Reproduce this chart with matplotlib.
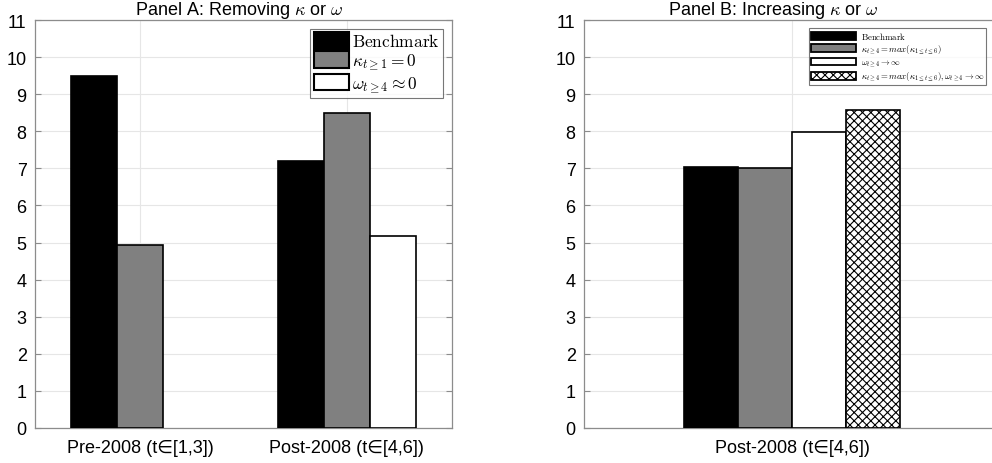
import numpy as np
import matplotlib
matplotlib.use('Agg')
import matplotlib.pyplot as plt
from matplotlib.patches import Patch

plt.rcParams['font.family'] = ['Liberation Sans', 'DejaVu Sans']
plt.rcParams['mathtext.fontset'] = 'cm'
plt.rcParams['hatch.linewidth'] = 0.8

## Data
cats_a = ['Pre-2008 (t\u2208[1,3])', 'Post-2008 (t\u2208[4,6])']
bench_a = [9.5, 7.2]
kappa_a = [4.93, 8.5]
omega_a = [0.0, 5.18]
labels_a = [r'$\mathrm{Benchmark}$', r'$\kappa_{t\geq1}=0$', r'$\omega_{t\geq4}\approx0$']

cats_b = ['Post-2008 (t\u2208[4,6])']
vals_b = [7.03, 7.0, 7.97, 8.58]
labels_b = [r'$\mathrm{Benchmark}$',
            r'$\kappa_{t\geq4}=max(\kappa_{1\leq t\leq6})$',
            r'$\omega_{t\geq4}\rightarrow\infty$',
            r'$\kappa_{t\geq4}=max(\kappa_{1\leq t\leq6}),\omega_{t\geq4}\rightarrow\infty$']

yticks = np.arange(0, 12, 1)
face = ['black', '#808080', 'white', 'white']
hatch = [None, None, None, 'xxxx']
edge_grey = '#8c8c8c'


def _style(ax):
    ax.set_ylim(0, 11)
    ax.set_yticks(yticks)
    ax.tick_params(direction='in', length=4, color=edge_grey, labelsize=13,
                   top=False, right=True, pad=6)
    ax.tick_params(axis='x', pad=8)
    ax.grid(True, color='#e6e6e6', linewidth=0.8)
    ax.set_axisbelow(True)
    for s in ax.spines.values():
        s.set_color(edge_grey)
        s.set_linewidth(0.9)


fig = plt.figure(figsize=(9.92, 4.64), dpi=100)

## Panel A
ax1 = fig.add_axes([35/992, 35/464, 417/992, 408/464])
x = np.arange(1, len(cats_a) + 1)
w = 0.223
for i, vals in enumerate([bench_a, kappa_a, omega_a]):
    bars = ax1.bar(x + (i - 1) * w, vals, w, color=face[i], edgecolor='black',
                   linewidth=1.2, zorder=3)
    for b in bars:
        if b.get_height() == 0:   # zero bars are not drawn in the original
            b.set_visible(False)
ax1.set_xlim(0.49, 2.51)
ax1.set_xticks(x)
ax1.set_xticklabels(cats_a)
_style(ax1)
ax1.set_title(r'Panel A: Removing $\kappa$ or $\omega$', fontsize=13, pad=3, x=0.49)
handles_a = [Patch(facecolor=face[i], edgecolor='black', linewidth=1.5) for i in range(3)]
leg = ax1.legend(handles_a, labels_a, loc='upper right', fontsize=12.5, handlelength=2.0,
                 handleheight=1.1, handletextpad=0.2, labelspacing=0.1, borderpad=0.2,
                 borderaxespad=0.5, fancybox=False, edgecolor='#555555')
leg.get_frame().set_linewidth(0.8)

## Panel B
ax2 = fig.add_axes([584/992, 35/464, 416/992, 408/464])
wb = 0.26
for i, v in enumerate(vals_b):
    ax2.bar(1 + (i - 1.5) * wb, v, wb, color=face[i], edgecolor='black',
            linewidth=1.2, hatch=hatch[i], label=labels_b[i], zorder=3)
ax2.set_xlim(0, 2)
ax2.set_xticks([1])
ax2.set_xticklabels(cats_b)
_style(ax2)
ax2.set_title(r'Panel B: Increasing $\kappa$ or $\omega$', fontsize=13, pad=3, x=0.455)
leg2 = ax2.legend(loc='upper left', bbox_to_anchor=(225/416, 0.98), fontsize=6.3,
                  handlelength=5.2, handleheight=1.0, handletextpad=0.5, labelspacing=0.2,
                  borderpad=0.2, borderaxespad=0.0, fancybox=False, edgecolor='#555555')
leg2.get_frame().set_linewidth(0.8)
for h in leg2.legend_handles:
    h.set_linewidth(1.3)

fig.savefig('out.png', dpi=100)
